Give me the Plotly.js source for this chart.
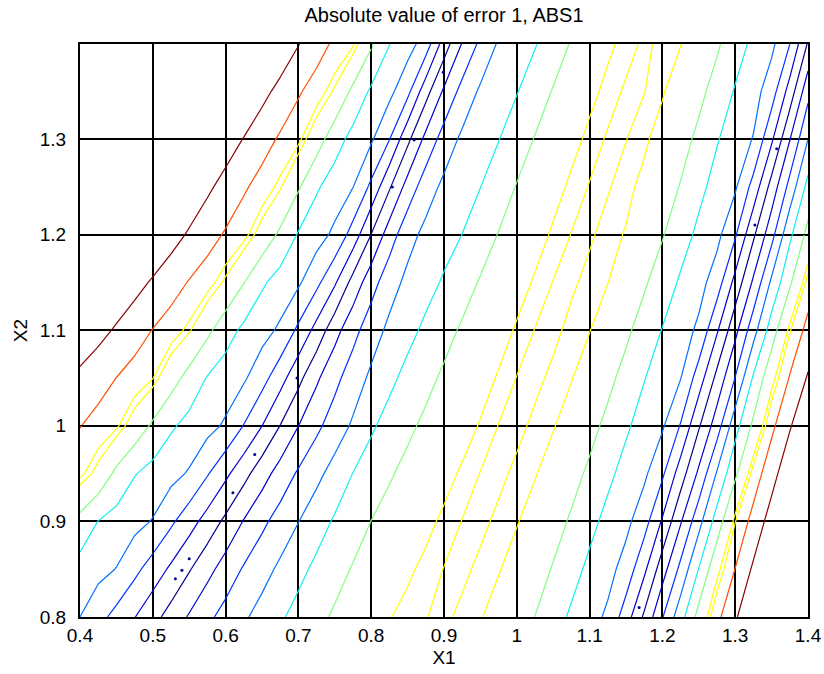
<!DOCTYPE html>
<html>
<head>
<meta charset="utf-8">
<script src="https://cdn.plot.ly/plotly-3.0.1.min.js"></script>
<style>html,body{margin:0;padding:0;background:#fff;}#chart{width:824px;height:674px;}</style>
</head>
<body>
<div id="chart"></div>
<script>
// Grid of X1 values (columns) and X2 values (rows)
const x1 = [0.400,0.425,0.450,0.475,0.500,0.525,0.550,0.575,0.600,0.625,0.650,0.675,0.700,0.725,0.750,0.775,0.800,0.825,0.850,0.875,0.900,0.925,0.950,0.975,1.000,1.025,1.050,1.075,1.100,1.125,1.150,1.175,1.200,1.225,1.250,1.275,1.300,1.325,1.350,1.375,1.400];
const x2 = [0.80, 0.85, 0.90, 0.95, 1.00, 1.05, 1.10, 1.15, 1.20, 1.25, 1.30, 1.35, 1.40];

// Error 1 (signed, in contour-level units), one array per X2 row
const err_x2_080 = [-3,-2.33,-1.68,-1.03,-0.33,0.38,1.10,1.78,2.35,2.86,3.36,3.87,4.32,4.76,5.13,5.41,5.70,5.98,6.12,6.24,6.32,6.17,6.04,5.74,5.37,4.99,4.40,3.85,3.39,2.82,1.49,-0.17,-1.94,-3.6,-5.36,-6.76,-7.86,-9.0,-10.0,-11.0,-12.0];
const err_x2_085 = [-3.62,-3.30,-2.97,-2.26,-1.55,-0.83,-0.08,0.69,1.43,2.10,2.64,3.19,3.73,4.22,4.66,5.07,5.35,5.64,5.93,6.10,6.26,6.33,6.17,6.04,5.73,5.35,4.94,4.34,3.79,3.33,2.61,1.22,-0.56,-2.27,-4.04,-5.79,-7.02,-8.16,-9.2,-10.2,-11.2];
const err_x2_090 = [-4.68,-3.98,-3.64,-3.31,-2.94,-2.18,-1.41,-0.61,0.22,1.06,1.78,2.40,2.98,3.57,4.12,4.57,5.01,5.30,5.59,5.88,6.09,6.26,6.34,6.17,6.04,5.72,5.33,4.89,4.27,3.73,3.26,2.40,0.88,-0.90,-2.66,-4.45,-6.22,-7.32,-8.45,-9.5,-10.5];
const err_x2_095 = [-6.41,-5.77,-4.76,-4.05,-3.67,-3.31,-2.90,-2.08,-1.22,-0.33,0.58,1.41,2.13,2.74,3.38,4.02,4.47,4.91,5.24,5.54,5.83,6.07,6.26,6.34,6.17,6.04,5.71,5.30,4.84,4.21,3.68,3.19,2.17,0.50,-1.20,-3.10,-4.81,-6.49,-7.61,-8.75,-9.8];
const err_x2_100 = [-7.03,-6.69,-6.35,-5.63,-4.83,-4.14,-3.70,-3.32,-2.86,-1.96,-1.01,0.02,0.99,1.78,2.47,3.14,3.86,4.36,4.82,5.18,5.48,5.78,6.04,6.26,6.35,6.17,6.04,5.70,5.28,4.78,4.14,3.61,3.12,1.93,0.11,-1.53,-3.62,-5.21,-6.78,-7.90,-9.0];
const err_x2_105 = [-7.75,-7.37,-6.99,-6.64,-6.27,-5.43,-4.64,-3.94,-3.54,-3.14,-2.37,-1.38,-0.29,0.84,1.73,2.50,3.19,3.77,4.29,4.75,5.15,5.47,5.78,6.05,6.26,6.34,6.17,6.03,5.66,5.23,4.70,4.04,3.53,3.03,1.52,-0.29,-2.03,-4.13,-5.75,-7.07,-8.1];
const err_x2_110 = [-8.78,-8.33,-7.87,-7.42,-6.97,-6.58,-6.08,-5.23,-4.41,-3.79,-3.36,-2.83,-1.79,-0.66,0.64,1.68,2.54,3.22,3.71,4.20,4.69,5.12,5.45,5.78,6.06,6.26,6.34,6.15,6.02,5.61,5.18,4.60,3.96,3.45,2.81,1.12,-0.71,-2.61,-4.50,-6.19,-7.31];
const err_x2_115 = [-9.76,-9.29,-8.82,-8.35,-7.88,-7.40,-6.94,-6.52,-5.87,-5.03,-4.14,-3.61,-3.15,-2.25,-1.13,0.36,1.60,2.59,3.24,3.67,4.11,4.61,5.08,5.43,5.78,6.06,6.26,6.31,6.15,6.01,5.57,5.12,4.51,3.87,3.36,2.50,0.68,-1.17,-3.19,-4.85,-6.47];
const err_x2_120 = [-10.9,-10.4,-9.9,-9.4,-8.9,-8.4,-7.88,-7.39,-6.90,-6.45,-5.68,-4.80,-3.91,-3.41,-2.79,-1.58,0.02,1.51,2.65,3.26,3.63,4.01,4.54,5.04,5.41,5.79,6.07,6.26,6.30,6.13,5.97,5.52,5.07,4.41,3.79,3.27,2.13,0.17,-1.66,-3.80,-5.3];
const err_x2_125 = [-11.8,-11.3,-10.8,-10.25,-9.74,-9.22,-8.70,-8.18,-7.66,-7.13,-6.65,-6.07,-5.12,-4.12,-3.54,-3.02,-1.78,-0.12,1.39,2.54,3.22,3.61,3.99,4.53,5.05,5.43,5.82,6.09,6.27,6.28,6.11,5.88,5.43,4.95,4.25,3.66,3.13,1.65,-0.38,-2.34,-4.33];
const err_x2_130 = [-13,-12.4,-11.8,-11.2,-10.6,-10.0,-9.5,-9.0,-8.5,-7.96,-7.40,-6.87,-6.40,-5.47,-4.43,-3.68,-3.14,-2.04,-0.25,1.28,2.43,3.19,3.58,3.97,4.52,5.05,5.45,5.85,6.10,6.29,6.26,6.08,5.79,5.33,4.80,4.07,3.52,2.95,1.17,-0.96,-3.0];
const err_x2_135 = [-14.25,-13.65,-13.06,-12.46,-11.87,-11.27,-10.68,-10.09,-9.49,-8.90,-8.30,-7.71,-7.11,-6.61,-5.90,-4.77,-3.84,-3.27,-2.29,-0.39,1.16,2.33,3.15,3.55,3.95,4.51,5.06,5.47,5.88,6.11,6.30,6.26,6.05,5.70,5.24,4.64,3.92,3.38,2.48,0.58,-1.67];
const err_x2_140 = [-15.5,-15,-14.5,-14,-13.5,-13,-12.3,-11.6,-10.9,-10.2,-9.4,-8.7,-8.05,-7.41,-6.83,-6.35,-5.14,-4.03,-3.41,-2.56,-0.55,1.05,2.22,3.11,3.52,3.93,4.50,5.07,5.49,5.91,6.12,6.31,6.18,6.02,5.61,5.14,4.46,3.78,3.23,2.02,-0.1];

// Contour levels of |error| (level units)
const levelValues = [0, 1, 2, 3, 4, 5, 6, 6.25, 7, 8];

// Tiny closed minimum contours (dots) seen along the valleys
const dotX1 = [0.531, 0.540, 0.550, 0.610, 0.640, 0.698, 0.829, 0.859, 0.899, 1.168, 1.199, 1.300, 1.327, 1.357];
const dotX2 = [0.840, 0.849, 0.861, 0.930, 0.970, 1.050, 1.250, 1.299, 1.370, 0.810, 0.880, 1.132, 1.210, 1.290];

// Tick labels
const xTickVals = [0.4,0.5,0.6,0.7,0.8,0.9,1.0,1.1,1.2,1.3,1.4];
const xTickText = ['0.4','0.5','0.6','0.7','0.8','0.9','1','1.1','1.2','1.3','1.4'];
const yTickVals = [0.8,0.9,1.0,1.1,1.2,1.3];
const yTickText = ['0.8','0.9','1','1.1','1.2','1.3'];

// Styles
const levelColors = ['#000090','#0000D0','#0030FF','#0070FF','#10F0F0','#80FF80','#FFFF00','#FFFF00','#FF5000','#880000'];

const z = [err_x2_080, err_x2_085, err_x2_090, err_x2_095, err_x2_100, err_x2_105, err_x2_110,
           err_x2_115, err_x2_120, err_x2_125, err_x2_130, err_x2_135, err_x2_140];

const traces = levelValues.map((L, i) => ({
  type: 'contour',
  x: x1, y: x2, z: z,
  autocontour: false,
  contours: L === 0 ? {start: -0.001, end: 0.5, size: 1, coloring: 'none'}
                    : {start: -L, end: L + 1e-6, size: 2 * L, coloring: 'none'},
  line: {color: levelColors[i], width: 1.2, smoothing: 0},
  showscale: false,
  hoverinfo: 'skip'
}));

traces.push({
  type: 'scatter', mode: 'markers', x: dotX1, y: dotX2,
  marker: {color: levelColors[0], size: 3, line: {width: 0}},
  hoverinfo: 'skip', showlegend: false
});

const tickFont = {family: 'Liberation Sans, Arial, sans-serif', color: '#000', size: 19};
const titleFont = {family: 'Liberation Sans, Arial, sans-serif', color: '#000', size: 20};

const layout = {
  width: 824, height: 674,
  margin: {l: 80, r: 16, t: 44, b: 57},
  paper_bgcolor: '#fff', plot_bgcolor: '#fff',
  showlegend: false,
  font: tickFont,
  title: {text: 'Absolute value of error 1, ABS1', xref: 'paper', x: 0.5, xanchor: 'center',
          yref: 'container', y: 1 - 15/674, yanchor: 'middle', font: titleFont},
  xaxis: {range: [0.4, 1.4], tickvals: xTickVals, ticktext: xTickText,
          showgrid: true, gridcolor: '#000', gridwidth: 2, zeroline: false,
          showline: true, mirror: 'ticks', linecolor: '#000', linewidth: 2,
          ticks: 'inside', ticklen: 5, tickcolor: '#000', tickfont: tickFont,
          title: {text: 'X1', font: tickFont, standoff: 6}},
  yaxis: {range: [0.8, 1.3995], tickvals: yTickVals, ticktext: yTickText,
          showgrid: true, gridcolor: '#000', gridwidth: 2, zeroline: false,
          showline: true, mirror: 'ticks', linecolor: '#000', linewidth: 2,
          ticks: 'inside', ticklen: 5, tickcolor: '#000', tickfont: tickFont,
          ticklabelstandoff: 8,
          title: {text: 'X2', font: tickFont, standoff: 7}}
};

Plotly.newPlot('chart', traces, layout, {staticPlot: true, displayModeBar: false});
</script>
</body>
</html>
